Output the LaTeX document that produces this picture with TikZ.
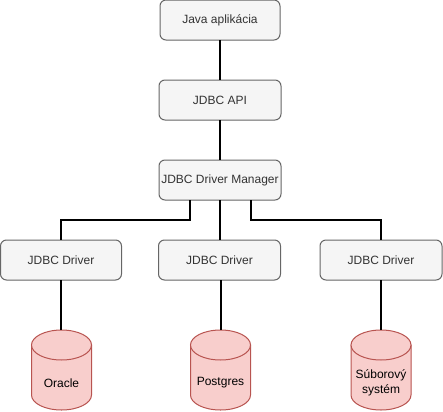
\documentclass[tikz,border=0pt]{standalone}
\usepackage{fontspec}
\setmainfont{Liberation Sans}
\definecolor{boxback}{HTML}{F5F5F5}
\definecolor{boxline}{HTML}{666666}
\definecolor{boxtext}{HTML}{333333}
\definecolor{dbback}{HTML}{F8CECC}
\definecolor{dbline}{HTML}{B85450}
\tikzset{
  layerbox/.style={draw=boxline,fill=boxback,text=boxtext,rounded corners=4.5pt,line width=.75pt,
    minimum height=30pt,inner sep=0pt,outer sep=0pt,font=\fontsize{9}{10.5}\selectfont},
  dbstore/.pic={
    \filldraw [draw=dbline,fill=dbback,line width=.75pt] (-30,-25) -- (-30,25)
      arc [start angle=180,end angle=0,x radius=30,y radius=15] -- (30,-25) -- cycle;
    \filldraw [draw=dbline,fill=dbback,line width=.75pt] (0,-25) ellipse [x radius=30,y radius=15];
    \node [align=center,inner sep=0pt,font=\fontsize{9}{11.5}\selectfont] (-name) at (0,13) {\tikzpictext};
    \coordinate (-top) at (0,-40);
  },
  wire/.style={black,line width=1.5pt}
}
\begin{document}
\begin{tikzpicture}[x=.75pt,y=-.75pt]
\useasboundingbox (0,0) rectangle (443,411);
\node [layerbox,minimum width=90pt] (java) at (220,20) {Java aplikácia};
\node [layerbox,minimum width=91.5pt] (api) at (220,100) {JDBC API};
\node [layerbox,minimum width=91.5pt] (manager) at (220,180) {JDBC Driver Manager};

\node [layerbox,minimum width=90.75pt] (driverA) at (61,260) {JDBC Driver};
\node [layerbox,minimum width=91.5pt] (driverB) at (219.5,260) {JDBC Driver};
\node [layerbox,minimum width=91.5pt] (driverC) at (381,260) {JDBC Driver};

\pic (oracle) [pic text=Oracle] at (61.5,370) {dbstore};
\pic (postgres) [pic text=Postgres] at (220.5,370) {dbstore};
\pic (files) [pic text={Súborový\\systém}] at (381,370) {dbstore};

\draw [wire] (java) -- (api);
\draw [wire] (api) -- (manager);
\draw [wire] (manager) -- (manager |- driverB.north);
\draw [wire] ([xshift=-22.5pt]manager.south) -- ++(0,20) -| (driverA.north);
\draw [wire] ([xshift=23.25pt]manager.south) -- ++(0,20) -| (driverC.north);
\draw [wire] (driverA) -- (driverA |- oracle-top);
\draw [wire] (driverB.south -| postgres-top) -- (postgres-top);
\draw [wire] (driverC) -- (driverC |- files-top);
\end{tikzpicture}
\end{document}
